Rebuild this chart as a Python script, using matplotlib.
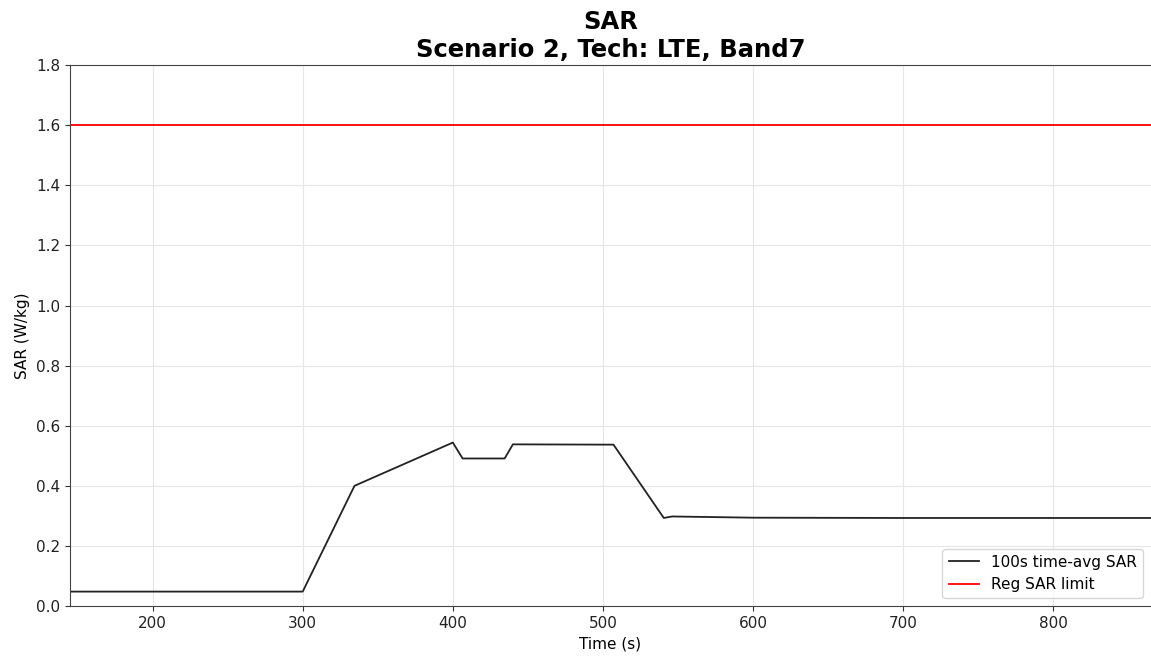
import matplotlib
matplotlib.use("Agg")
import matplotlib.pyplot as plt

# time-averaged SAR
time_s = [145, 300, 334.5, 400, 406.5, 434.5, 440, 507, 540.5, 546, 600, 700, 865]
sar_avg = [0.048, 0.048, 0.400, 0.544, 0.491, 0.491, 0.538, 0.537, 0.293, 0.298, 0.294, 0.293, 0.293]
sar_limit = 1.6

fig = plt.figure(figsize=(11.51, 6.58), dpi=100)
ax = fig.add_axes([0.0608, 0.079, 0.9392, 0.822])

ax.plot(time_s, sar_avg, color="#222222", lw=1.3, label="100s time-avg SAR")
ax.axhline(sar_limit, color="red", lw=1.3, label="Reg SAR limit")

ax.set_xlim(145, 865)
ax.set_ylim(0, 1.8)
ax.set_yticks([0.0, 0.2, 0.4, 0.6, 0.8, 1.0, 1.2, 1.4, 1.6, 1.8])
ax.tick_params(labelsize=11, colors="#333333", labelcolor="#222222")
ax.grid(True, color="#e6e6e6", lw=0.8)
ax.set_axisbelow(True)
for s in ax.spines.values():
    s.set_color("#444444")
ax.spines["right"].set_visible(False)

ax.set_xlabel("Time (s)", fontsize=11)
ax.set_ylabel("SAR (W/kg)", fontsize=11)
ax.set_title("SAR\nScenario 2, Tech: LTE, Band7", fontsize=17.5, fontweight="bold")
ax.legend(loc="lower right", fontsize=11)

fig.savefig("out.png", dpi=100)
